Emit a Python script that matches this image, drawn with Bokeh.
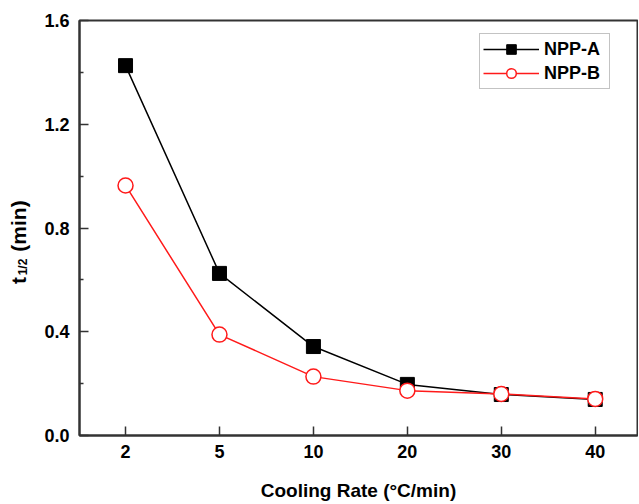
import math
from bokeh.plotting import figure
from bokeh.layouts import row
from bokeh.models import Range1d, FixedTicker, Label, Legend, LegendItem, NumeralTickFormatter
from bokeh.embed import file_html
from bokeh.resources import INLINE

rates = ["2", "5", "10", "20", "30", "40"]
npp_a = [1.426, 0.625, 0.343, 0.197, 0.158, 0.139]
npp_b = [0.964, 0.389, 0.227, 0.173, 0.160, 0.141]
y_ticks = [0.0, 0.4, 0.8, 1.2, 1.6]
y_minor = [0.2, 0.6, 1.0, 1.4]

xs = list(range(1, len(rates) + 1))

FONT = "Liberation Sans"
H = 503
TOP, BOTTOM = 20, 68
FRAME_H = H - TOP - BOTTOM

# main chart
p = figure(width=598, height=H, output_backend="svg", toolbar_location=None,
           x_range=Range1d(0.51, 6.45), y_range=Range1d(0, 1.6),
           min_border_left=39, min_border_right=1, min_border_top=TOP, min_border_bottom=BOTTOM)
p.background_fill_color = "white"
p.border_fill_color = "white"
p.outline_line_color = "#333333"
p.outline_line_width = 2
p.grid.visible = False

la = p.line(xs, npp_a, line_color="black", line_width=1.5)
sa = p.scatter(xs, npp_a, marker="square", size=14, fill_color="black", line_color="black")
lb = p.line(xs, npp_b, line_color="#ff1a1a", line_width=1.5)
sb = p.scatter(xs, npp_b, marker="circle", size=15, fill_color="white", line_color="#ff1a1a", line_width=1.5)

xa = p.xaxis[0]
xa.ticker = FixedTicker(ticks=xs, minor_ticks=[])
xa.major_label_overrides = {x: r for x, r in zip(xs, rates)}
ya = p.yaxis[0]
ya.ticker = FixedTicker(ticks=y_ticks, minor_ticks=y_minor)
ya.formatter = NumeralTickFormatter(format="0.0")

for ax in (xa, ya):
    ax.axis_line_color = "#333333"
    ax.axis_line_width = 2
    ax.major_tick_line_color = "#333333"
    ax.major_tick_line_width = 1.5
    ax.minor_tick_line_color = "#333333"
    ax.minor_tick_line_width = 1.5
    ax.major_tick_in = 9
    ax.major_tick_out = 0
    ax.minor_tick_in = 4
    ax.minor_tick_out = 0
    ax.major_label_text_font = FONT
    ax.major_label_text_font_style = "bold"
    ax.major_label_text_font_size = "18px"
    ax.major_label_text_color = "black"
    ax.major_label_standoff = 10
xa.major_label_standoff = 9

xa.axis_label = "Cooling Rate (°C/min)"
xa.axis_label_text_font = FONT
xa.axis_label_text_font_style = "bold"
xa.axis_label_text_font_size = "19px"
xa.axis_label_text_color = "black"
xa.axis_label_standoff = 19

legend = Legend(items=[LegendItem(label="NPP-A", renderers=[la, sa]),
                       LegendItem(label="NPP-B", renderers=[lb, sb])],
                location=(400, 346))
legend.label_text_font = FONT
legend.label_text_font_style = "bold"
legend.label_text_font_size = "18px"
legend.label_text_color = "black"
legend.glyph_width = 56
legend.glyph_height = 24
legend.label_height = 20
legend.label_width = 62
legend.spacing = 0
legend.padding = 3
legend.margin = 0
legend.label_standoff = 5
legend.border_line_color = "#888888"
legend.border_line_width = 1.5
legend.background_fill_color = "white"
p.add_layout(legend)

# narrow panel holding the rotated y-axis title (with subscript);
# its frame is aligned with the main frame, so y is measured up from the frame bottom
q = figure(width=40, height=H, output_backend="svg", toolbar_location=None,
           x_range=Range1d(0, 40), y_range=Range1d(0, FRAME_H),
           x_axis_type=None, y_axis_type=None,
           min_border_left=0, min_border_right=0, min_border_top=TOP, min_border_bottom=BOTTOM)
q.outline_line_color = None
q.grid.visible = False
q.background_fill_color = "white"
q.border_fill_color = "white"
common = dict(angle=math.pi / 2, text_font=FONT, text_font_style="bold", text_color="black",
              text_align="center", text_baseline="alphabetic")
q.add_layout(Label(x=18, y=155, text="t", text_font_size="21px", **common))
q.add_layout(Label(x=22, y=168.5, text="1/2", text_font_size="12px", **common))
q.add_layout(Label(x=18, y=209.5, text="(min)", text_font_size="21px", **common))

layout = row(q, p, spacing=0)
open("out.html", "w").write(file_html(layout, INLINE))
